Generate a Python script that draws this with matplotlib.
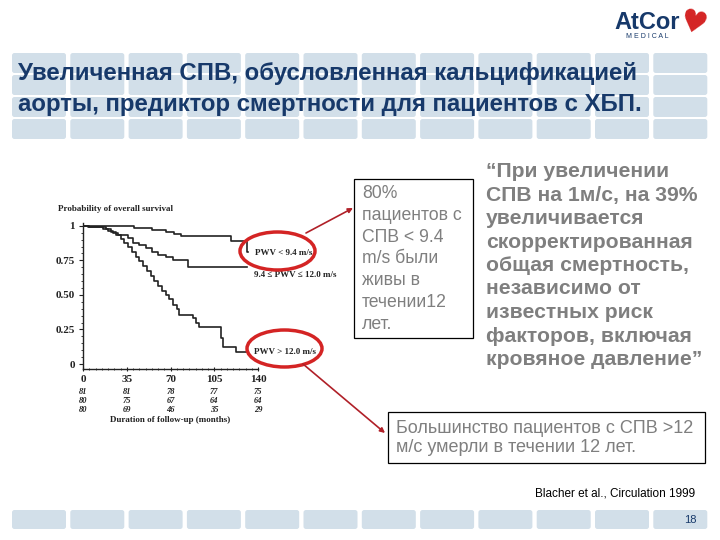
import matplotlib
matplotlib.use('Agg')
import matplotlib.pyplot as plt
from matplotlib.patches import FancyBboxPatch, Ellipse, Rectangle
from matplotlib.ticker import MultipleLocator

# ---------------- data ----------------
# Kaplan-Meier step curves (time in months, survival after each step)
t_low = [0, 41, 55, 66, 73, 78, 118, 131, 132]
s_low = [1.0, 0.985, 0.97, 0.955, 0.94, 0.925, 0.89, 0.81, 0.81]

t_mid = [0, 4, 16, 20, 24, 28, 36, 40, 45, 50, 55, 60, 66, 72, 84, 131]
s_mid = [1.0, 0.99, 0.975, 0.96, 0.945, 0.935, 0.91, 0.875, 0.86, 0.84, 0.81,
         0.79, 0.775, 0.755, 0.70, 0.70]

t_high = [0, 5, 18, 22, 26, 30, 33, 36, 39, 42, 45, 48, 51, 54, 57, 60, 63, 66,
          69, 72, 75, 77, 88, 90, 93, 110, 112, 122, 132]
s_high = [1.0, 0.99, 0.98, 0.955, 0.93, 0.905, 0.875, 0.845, 0.81, 0.775, 0.745,
          0.71, 0.67, 0.64, 0.60, 0.565, 0.53, 0.50, 0.47, 0.43, 0.40, 0.355,
          0.33, 0.30, 0.265, 0.19, 0.12, 0.09, 0.09]

curve_labels = ["PWV < 9.4 m/s", "9.4 \u2264 PWV \u2264 12.0 m/s", "PWV > 12.0 m/s"]

risk_times = [0, 35, 70, 105, 140]
risk_low = [81, 81, 78, 77, 75]
risk_mid = [80, 75, 67, 64, 64]
risk_high = [80, 69, 46, 35, 29]

xticks = [0, 35, 70, 105, 140]
xtick_labels = ["0", "35", "70", "105", "140"]
yticks = [0, 0.25, 0.5, 0.75, 1]
ytick_labels = ["0", "0.25", "0.50", "0.75", "1"]

y_title = "Probability of overall survival"
x_title = "Duration of follow-up (months)"

title_lines = ["Увеличенная СПВ, обусловленная кальцификацией",
               "аорты, предиктор смертности для пациентов с ХБП."]
box1_lines = ["80%", "пациентов с", "СПВ < 9.4", "m/s были", "живы в",
              "течении12", "лет."]
quote_lines = ["\u201cПри увеличении", "СПВ на 1м/с, на 39%", "увеличивается",
               "скорректированная", "общая смертность,", "независимо от",
               "известных риск", "факторов, включая", "кровяное давление\u201d"]
box2_lines = ["Большинство пациентов с СПВ >12", "м/с умерли в течении 12 лет."]
citation = "Blacher et al., Circulation 1999"
page_no = "18"

# ---------------- styles ----------------
SANS = ['Liberation Sans', 'DejaVu Sans']
SERIF = ['Liberation Serif', 'DejaVu Serif']
navy = '#17396A'
gray = '#7F7F7F'
tile = '#D2DFE9'
red = '#D42424'

fig = plt.figure(figsize=(7.2, 5.4), dpi=100)
fig.patch.set_facecolor('white')

bg = fig.add_axes([0, 0, 1, 1])
bg.set_xlim(0, 720)
bg.set_ylim(540, 0)
bg.axis('off')

# title banner tiles
for r in range(4):
    for c in range(12):
        bg.add_patch(FancyBboxPatch((12 + c * 58.3, 53 + r * 22), 54, 20,
                                    boxstyle='round,pad=0,rounding_size=2.5',
                                    fc=tile, ec='none'))
# bottom tiles
for c in range(12):
    bg.add_patch(FancyBboxPatch((12 + c * 58.3, 510), 54, 19,
                                boxstyle='round,pad=0,rounding_size=2.5',
                                fc=tile, ec='none'))

# title
for i, line in enumerate(title_lines):
    bg.text(18, 80 + i * 30.5, line, fontsize=17.3, fontweight='bold', color=navy,
            family=SANS, va='baseline', ha='left')

# logo
bg.text(614, 29, "AtCor", fontsize=17, fontweight='bold', color=navy,
        family=SANS, va='baseline', ha='left')
bg.text(647, 38, "M E D I C A L", fontsize=5, color=navy, family=SANS,
        va='baseline', ha='center')
bg.text(693, 24, "\u2665", fontsize=22, color=red, family=['DejaVu Sans'],
        va='center', ha='center', rotation=-15)

# box 1
bg.add_patch(Rectangle((354, 179), 119, 159, fc='white', ec='black', lw=0.9))
for i, line in enumerate(box1_lines):
    bg.text(362, 198 + i * 21.8, line, fontsize=12.7, color=gray, family=SANS,
            va='baseline', ha='left')

# quote
for i, line in enumerate(quote_lines):
    bg.text(486, 177 + i * 23.5, line, fontsize=15.2, fontweight='bold',
            color=gray, family=SANS, va='baseline', ha='left')

# box 2
bg.add_patch(Rectangle((388, 412), 317, 51, fc='white', ec='black', lw=0.9))
for i, line in enumerate(box2_lines):
    bg.text(396, 433 + i * 19.5, line, fontsize=13, color=gray, family=SANS,
            va='baseline', ha='left')

# citation and page number
bg.text(695, 496, citation, fontsize=8.5, color='black', family=SANS,
        va='baseline', ha='right')
bg.text(697, 523, page_no, fontsize=8, color=navy, family=SANS,
        va='baseline', ha='right')

# chart y title
bg.text(58, 209, y_title, fontsize=6.5, fontweight='bold', color='#222222',
        family=SERIF, va='center', ha='left')

# ---------------- KM chart ----------------
ax = fig.add_axes([83 / 720, 1 - 369 / 540, 175 / 720, 146 / 540])
ax.set_facecolor('none')
ax.set_xlim(0, 140)
ax.set_ylim(-0.036, 1.02)
for sp in ['top', 'right']:
    ax.spines[sp].set_visible(False)
for sp in ['left', 'bottom']:
    ax.spines[sp].set_linewidth(1.0)
    ax.spines[sp].set_color('#222222')

kw = dict(where='post', color='#222222', lw=1.2)
ax.step(t_low, s_low, **kw)
ax.step(t_mid, s_mid, **kw)
ax.step(t_high, s_high, **kw)

ax.set_xticks(xticks)
ax.set_xticklabels(xtick_labels)
ax.set_yticks(yticks)
ax.set_yticklabels(ytick_labels)
ax.xaxis.set_minor_locator(MultipleLocator(5))
ax.yaxis.set_minor_locator(MultipleLocator(0.05))
ax.tick_params(axis='both', which='major', length=3, width=0.8, color='#222222',
               labelsize=8, pad=3)
ax.tick_params(axis='both', which='minor', length=1.8, width=0.6, color='#222222')
ax.tick_params(axis='x', which='both', direction='inout')
for lab in ax.get_xticklabels() + ax.get_yticklabels():
    lab.set_fontfamily(SERIF)
    lab.set_fontweight('bold')
    lab.set_color('#222222')

ax.text(137.6, 0.80, curve_labels[0], fontsize=6.5, fontweight='bold',
        family=SERIF, color='#222222', va='center', ha='left', clip_on=False)
ax.text(136.8, 0.643, curve_labels[1], fontsize=6.5, fontweight='bold',
        family=SERIF, color='#222222', va='center', ha='left', clip_on=False)
ax.text(136.8, 0.087, curve_labels[2], fontsize=6.5, fontweight='bold',
        family=SERIF, color='#222222', va='center', ha='left', clip_on=False)

for row_y, row in zip([-0.203, -0.268, -0.333], [risk_low, risk_mid, risk_high]):
    for t, n in zip(risk_times, row):
        ax.text(t, row_y, str(n), fontsize=6, fontweight='bold', style='italic',
                family=SERIF, color='#222222', ha='center', va='center',
                clip_on=False)
ax.text(70, -0.405, x_title, fontsize=6.5, fontweight='bold', family=SERIF,
        color='#222222', ha='center', va='center', clip_on=False)

# ---------------- overlay: red ellipses and arrows ----------------
ov = fig.add_axes([0, 0, 1, 1])
ov.set_xlim(0, 720)
ov.set_ylim(540, 0)
ov.axis('off')
ov.patch.set_alpha(0)
ov.add_patch(Ellipse((277.5, 251), 75, 38, fc='none', ec=red, lw=2.5))
ov.add_patch(Ellipse((284.5, 348.5), 75, 37, fc='none', ec=red, lw=2.5))
ov.annotate('', xy=(353, 208), xytext=(306, 233),
            arrowprops=dict(arrowstyle='-|>', color='#B02028', lw=1.2,
                            mutation_scale=7, shrinkA=0, shrinkB=0))
ov.annotate('', xy=(385, 433), xytext=(303, 364),
            arrowprops=dict(arrowstyle='-|>', color='#B02028', lw=1.2,
                            mutation_scale=7, shrinkA=0, shrinkB=0))

fig.savefig('out.png', dpi=100, facecolor='white')
